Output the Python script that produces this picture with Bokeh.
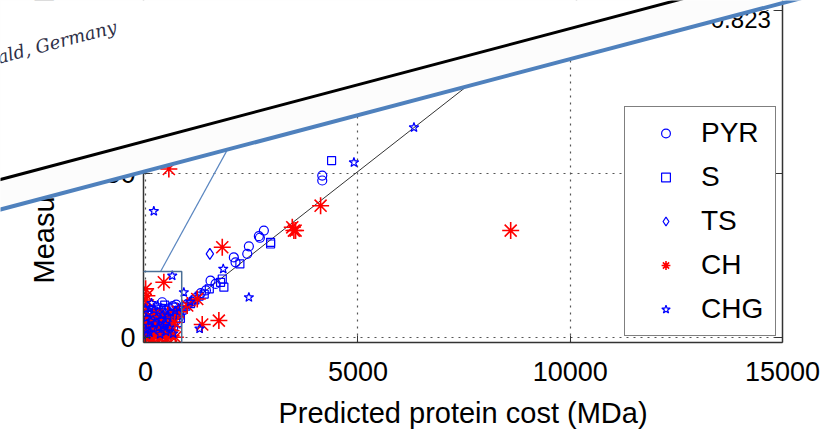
import math
from bokeh.plotting import figure
from bokeh.models import (Range1d, FixedTicker, LinearAxis, Legend, LegendItem, Label,
                          BoxAnnotation, GridBox, Column)
from bokeh.core.properties import value
from bokeh.embed import file_html
from bokeh.resources import INLINE

# ---------------- data ----------------
x_ticks = [0, 5000, 10000, 15000]
y_ticks = [0, 50, 100]
y_label_ticks = [0, 50]

pyr_x = [20, 45, 70, 95, 120, 150, 180, 210, 240, 270, 300, 330, 360, 391, 429, 460, 500, 540, 580, 620,
         680, 740, 820, 900, 980, 1080, 1180, 1300, 1420, 1529, 1647, 2078, 2118, 2394, 2432, 2667, 2691,
         2785, 4160, 4160,
         50, 100, 160, 230, 280, 350, 420, 480, 560, 640, 720, 380, 520, 600, 700, 780]
pyr_y = [0.8, 1.5, 0.5, 2.2, 1.2, 3.0, 1.8, 2.6, 3.4, 2.2, 4.2, 3.1, 4.6, 10.8, 8.8, 5.2, 4.4, 6.1, 5.6, 6.4,
         7.2, 7.9, 8.6, 9.3, 10.2, 11.0, 12.1, 13.6, 14.4, 17.4, 16.4, 24.5, 23.0, 25.6, 27.9, 31.0, 30.5,
         32.7, 49.5, 48.0,
         3.5, 4.8, 6.2, 5.5, 7.1, 6.8, 7.6, 8.3, 8.9, 9.6, 10.1, 1.2, 2.6, 3.9, 5.0, 6.1]

s_x = [30, 60, 100, 140, 175, 215, 255, 290, 330, 370, 410, 429, 470, 520, 560, 610, 665, 720, 790, 860,
       950, 1060, 1160, 1260, 1380, 1500, 1765, 1805, 1843, 2220, 2943, 2943, 4380,
       40, 90, 150, 200, 300, 360, 450, 510, 590, 660, 750, 820]
s_y = [1.2, 0.4, 1.9, 1.0, 2.7, 1.6, 3.2, 2.3, 3.8, 2.9, 4.5, 8.2, 3.6, 5.1, 5.9, 4.8, 9.3, 6.8, 7.6, 8.4,
       9.6, 10.4, 11.5, 12.7, 13.3, 14.9, 16.9, 17.9, 15.4, 22.5, 29.1, 28.6, 54.1,
       4.2, 5.6, 7.4, 6.1, 6.9, 8.7, 9.9, 1.4, 2.2, 3.4, 4.6, 5.9]

ts_x = [15, 55, 110, 160, 230, 300, 380, 429, 480, 560, 1513]
ts_y = [0.3, 1.1, 0.6, 2.0, 1.4, 2.8, 1.9, 0.5, 3.5, 2.5, 25.6]

ch_x = [0, 0, 5, 15, 25, 40, 60, 80, 100, 130, 160, 200, 240, 280, 330, 380, 429, 460, 520, 547, 600,
        680, 760, 980, 1216, 1333, 1725, 1805, 3454, 3492, 3532, 4121, 8598,
        0, 0, 10, 30, 70, 150, 220, 310, 400, 500, 600, 700, 20]
ch_y = [8.2, 14.9, 3.0, 0.5, 5.2, 1.8, 6.4, 0.3, 2.9, 4.1, 1.2, 7.3, 2.4, 0.8, 5.6, 3.3, 16.9, 1.0, 6.8,
        51.5, 2.1, 4.6, 7.9, 9.8, 11.8, 4.0, 5.2, 27.6, 33.7, 32.7, 32.7, 40.3, 32.7,
        11.5, 5.6, 9.9, 12.8, 0.0, -0.3, 0.2, -0.2, 0.4, -0.3, 0.6, 0.1, -0.4]

chg_x = [0, 10, 35, 65, 90, 125, 160, 193, 220, 260, 310, 360, 410, 470, 530, 590, 627, 700, 780, 900,
         1050, 1270, 1828, 2432, 4906, 6320,
         20, 55, 100, 140, 200, 280, 340, 400, 480, 560, 650]
chg_y = [8.8, 2.4, 0.9, 3.6, 1.5, 5.0, 2.8, 38.6, 4.3, 6.2, 3.1, 5.4, 7.0, 4.1, 6.6, 7.7, 18.9, 8.2, 9.0,
         13.8, 10.9, 2.7, 21.0, 12.3, 53.5, 64.2,
         6.0, 7.5, 9.0, 10.5, 8.5, 9.8, 1.0, 3.5, 1.8, 3.0, 1.2]

fit_slope = 0.01015
fit_x = [0, 15000]
r_text = "R = 0.823"
y_title = "Measured protein cost (MDa)"
x_title = "Predicted protein cost (MDa)"
paper_text = "ald, Germany"

zoom_box = dict(left=-75, right=850, bottom=-3, top=20.2)
connector_x = [352, 2560]
connector_y = [20.2, 72.4]

FONT = "Liberation Sans"
W, H = 837, 440

# ---------------- main figure ----------------
p = figure(width=W, height=H, x_range=Range1d(-50, 15000), y_range=Range1d(-1.5, 103),
           output_backend="svg", toolbar_location=None,
           min_border_left=143, min_border_right=55, min_border_top=0, min_border_bottom=98)
p.outline_line_color = None
p.background_fill_color = "white"
p.border_fill_color = "white"

def style_axis(ax, ticks, labels=True):
    ax.ticker = FixedTicker(ticks=ticks)
    ax.axis_line_color = "#333333"
    ax.axis_line_width = 1.5
    ax.major_tick_in = 7
    ax.major_tick_out = 0
    ax.major_tick_line_color = "#333333"
    ax.minor_tick_in = 0
    ax.minor_tick_out = 0
    ax.minor_tick_line_color = None
    ax.major_label_text_font = FONT
    ax.major_label_text_font_size = "27px"
    ax.major_label_text_color = "black" if labels else None

xa = p.xaxis[0]
style_axis(xa, x_ticks)
xa.major_label_standoff = 19
xa.axis_label = x_title
xa.axis_label_text_font = FONT
xa.axis_label_text_font_size = "29px"
xa.axis_label_text_font_style = "normal"
xa.axis_label_text_color = "black"
xa.axis_label_standoff = 13

ya = p.yaxis[0]
style_axis(ya, y_label_ticks)
ya.major_label_standoff = 8

ra = LinearAxis()
style_axis(ra, y_ticks, labels=False)
ra.major_tick_in = 8
p.add_layout(ra, "right")

p.xgrid.ticker = FixedTicker(ticks=x_ticks[:-1])
p.ygrid.ticker = FixedTicker(ticks=y_ticks)
for g in (p.xgrid, p.ygrid):
    g.grid_line_color = "#555555"
    g.grid_line_dash = "2 5"
    g.grid_line_width = 1.2

fit_y = [fit_slope * v for v in fit_x]
p.line(fit_x, fit_y, line_color="#333333", line_width=1)

r_pyr = p.scatter(pyr_x, pyr_y, marker="circle", size=9, fill_color=None, line_color="blue", line_width=1.2)
r_s = p.scatter(s_x, s_y, marker="square", size=8, fill_color=None, line_color="blue", line_width=1.2)
r_ts = p.scatter(ts_x, ts_y, marker="diamond", size=11, fill_color=None, line_color="blue", line_width=1.2)
r_ch = p.scatter(ch_x, ch_y, marker="asterisk", size=17, line_color="red", line_width=1.6)
r_chg = p.scatter(chg_x, chg_y, marker="star", size=10, fill_color=None, line_color="blue", line_width=1.2)

p.add_layout(BoxAnnotation(fill_alpha=0, line_color="#4a6f96", line_alpha=1, line_width=1.5, **zoom_box))
p.segment(x0=[connector_x[0]], y0=[connector_y[0]], x1=[connector_x[1]], y1=[connector_y[1]],
          line_color="#5a86c0", line_width=1.2)

p.add_layout(Label(x=14725, y=97.3, text=r_text, text_align="right", text_baseline="middle",
                   text_font=FONT, text_font_size="24px", text_color="black"))

legend = Legend(items=[LegendItem(label="PYR", renderers=[r_pyr]),
                       LegendItem(label="S", renderers=[r_s]),
                       LegendItem(label="TS", renderers=[r_ts]),
                       LegendItem(label="CH", renderers=[r_ch]),
                       LegendItem(label="CHG", renderers=[r_chg])],
                location=(481, 6), margin=0, padding=6, spacing=4,
                glyph_width=69, glyph_height=22, label_height=40, label_width=68, label_standoff=1,
                label_text_font=FONT, label_text_font_size="28px", label_text_color="black",
                border_line_color="black", border_line_width=1,
                background_fill_color="white", background_fill_alpha=1)
p.add_layout(legend)

# ---------------- overlay figure (pasted paper strip) ----------------
ov = figure(width=W, height=H, x_range=Range1d(0, W), y_range=Range1d(H, 0),
            output_backend="svg", toolbar_location=None, x_axis_type=None, y_axis_type=None,
            min_border_left=0, min_border_right=0, min_border_top=0, min_border_bottom=0)
ov.outline_line_color = None
ov.background_fill_color = None
ov.border_fill_color = None
ov.grid.visible = False

# y-axis title (its upper part lies under the strip)
ov.text(x=[43], y=[283], text=[y_title], angle=math.pi / 2, text_align="left",
        text_baseline="alphabetic", text_font=value(FONT), text_font_size="29px", text_color="black")

def blue_y(x):
    return 209 - 0.264 * x

def black_y(x):
    return 179 - 0.265 * x

sx = [-20, W + 20]
ov.patch([-20, W + 20, W + 20, -20], [-100, -100, blue_y(W + 20), blue_y(-20)],
         fill_color="#fcfcfc", line_color=None)
ov.patch([-20, W + 20, W + 20, -20], [-100, -100, black_y(W + 20), black_y(-20)],
         fill_color="white", line_color=None)
ov.line(sx, [black_y(v) for v in sx], line_color="black", line_width=3)
ov.line(sx, [blue_y(v) for v in sx], line_color="#4f81bd", line_width=4)
ov.text(x=[-3], y=[57], text=[paper_text], angle=0.259, text_align="left", text_baseline="alphabetic",
        text_font=value("DejaVu Serif"), text_font_style="italic", text_font_size="18px",
        text_color="#2e3047")

layout = GridBox(children=[(Column(children=[p]), 0, 0), (Column(children=[ov]), 0, 0)])

open("out.html", "w").write(file_html(layout, INLINE))
